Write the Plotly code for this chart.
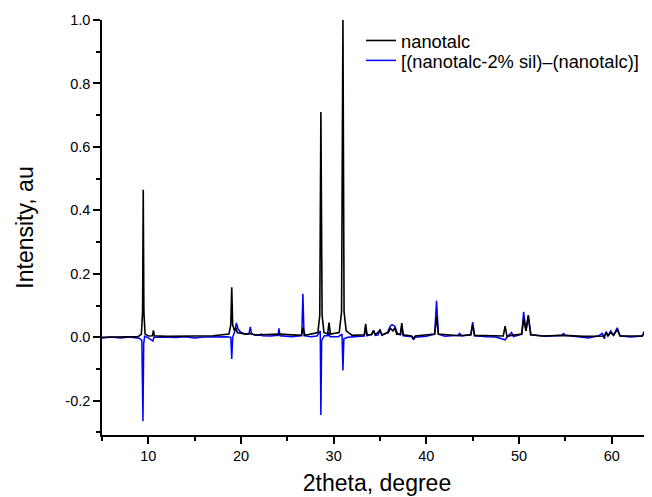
import plotly.graph_objects as go

# nanotalc pattern (2theta, intensity) vertices
nano_x = [5.0, 8.9, 9.25, 9.38, 9.45, 9.52, 9.65, 10.0, 10.45, 10.55, 10.65, 12.0, 15.0, 17.0,
          18.7, 18.9, 19.0, 19.1, 19.3, 19.45, 19.6, 20.5, 21.0, 21.5, 22.2, 24.1, 26.5, 26.7,
          26.9, 28.3, 28.5, 28.62, 28.75, 28.95, 29.35, 29.5, 29.65, 30.6, 30.85, 31.0, 31.12,
          31.35, 32.0, 33.3, 33.45, 33.6, 34.1, 34.3, 34.5, 35.0, 35.2, 35.9, 36.1, 36.4, 36.6,
          36.8, 37.2, 37.35, 37.5, 38.4, 38.6, 38.8, 40.9, 41.1, 41.3, 43.5, 44.8, 45.0, 45.2,
          48.3, 48.5, 48.7, 49.2, 50.3, 50.5, 50.75, 51.0, 51.25, 52.5, 54.8, 57.0, 59.2, 59.4,
          59.6, 59.9, 60.2, 60.6, 60.9, 63.3, 63.5, 63.7, 64.4]
nano_y = [0.0, 0.002, 0.01, 0.08, 0.465, 0.08, 0.01, 0.004, 0.005, 0.022, 0.005, 0.003, 0.004, 0.005,
          0.01, 0.04, 0.158, 0.04, 0.02, 0.03, 0.015, 0.01, 0.012, 0.008, 0.008, 0.01, 0.006, 0.03,
          0.006, 0.015, 0.07, 0.71, 0.07, 0.015, 0.01, 0.046, 0.01, 0.015, 0.08, 1.0, 0.08,
          0.02, 0.006, 0.008, 0.042, 0.008, 0.008, 0.02, 0.008, 0.022, 0.008, 0.015, 0.028, 0.02, 0.03,
          0.01, 0.01, 0.045, 0.008, 0.004, -0.005, 0.004, 0.01, 0.065, 0.01, 0.005, 0.008, 0.04, 0.006,
          0.004, 0.035, 0.003, 0.006, 0.01, 0.06, 0.02, 0.07, 0.008, 0.004, 0.006, 0.003, 0.004, 0.015,
          0.004, 0.015, 0.006, 0.025, 0.004, 0.004, 0.012, 0.003, 0.003]

# difference pattern [(nanotalc-2% sil)-(nanotalc)]
diff_x = [5.0, 6.0, 7.0, 8.0, 9.0, 9.3, 9.42, 9.5, 9.6, 10.0, 10.5, 10.6, 11.5, 13.0, 14.0, 15.0,
          16.0, 17.0, 18.5, 18.9, 19.0, 19.1, 19.35, 19.5, 19.7, 20.0, 20.5, 20.85, 21.0, 21.15,
          21.6, 22.1, 22.2, 22.3, 23.2, 24.0, 24.1, 24.2, 25.5, 26.55, 26.68, 26.8, 27.5, 28.2,
          28.55, 28.62, 28.7, 29.0, 29.4, 29.5, 29.6, 30.5, 30.9, 31.0, 31.1, 31.5, 32.5, 33.3,
          33.45, 33.6, 34.1, 34.3, 34.5, 34.8, 35.0, 35.2, 35.8, 36.1, 36.3, 36.6, 36.9, 37.2,
          37.35, 37.5, 38.5, 38.6, 38.8, 40.0, 40.9, 41.1, 41.3, 42.0, 43.4, 43.6, 43.8, 44.8,
          45.0, 45.2, 46.5, 47.5, 48.5, 48.7, 49.2, 49.4, 50.3, 50.5, 50.75, 51.0, 51.3, 53.0,
          54.6, 54.8, 55.0, 56.0, 57.5, 58.6, 59.0, 59.2, 59.4, 59.6, 59.9, 60.2, 60.6, 60.9,
          62.0, 63.3, 63.5, 63.7, 64.4]
diff_y = [-0.002, 0.001, -0.002, 0.001, -0.003, -0.01, -0.265, -0.02, 0.003, -0.002, -0.012, 0.0,
          0.001, -0.001, 0.002, -0.002, 0.001, 0.002, 0.002, 0.0, -0.068, 0.0, 0.02, 0.045, 0.025,
          0.015, 0.01, 0.01, 0.033, 0.01, 0.006, 0.006, 0.012, 0.005, 0.004, 0.006, 0.028, 0.005,
          0.002, 0.005, 0.137, 0.005, 0.002, 0.004, 0.02, -0.245, -0.01, 0.005, 0.005, 0.015,
          0.002, 0.002, 0.01, -0.105, -0.005, 0.0, 0.002, 0.004, 0.03, 0.005, 0.01, 0.022, 0.006,
          0.008, 0.025, 0.006, 0.015, 0.035, 0.04, 0.035, 0.01, 0.008, 0.035, 0.005, 0.002, -0.008,
          0.0, 0.003, 0.01, 0.115, 0.01, 0.003, 0.006, 0.012, 0.004, 0.008, 0.048, 0.005, 0.002,
          0.001, -0.008, 0.0, 0.015, 0.002, 0.01, 0.08, 0.02, 0.065, 0.008, 0.003, 0.006, 0.012,
          0.006, 0.002, -0.002, 0.005, 0.012, -0.005, 0.018, 0.005, 0.02, 0.006, 0.03, 0.005,
          0.001, 0.004, 0.018, 0.003, 0.0]

y_ticks = [-0.2, 0.0, 0.2, 0.4, 0.6, 0.8, 1.0]
y_tick_labels = ["-0.2", "0.0", "0.2", "0.4", "0.6", "0.8", "1.0"]
x_ticks = [10, 20, 30, 40, 50, 60]
x_tick_labels = ["10", "20", "30", "40", "50", "60"]

fig = go.Figure()
fig.add_trace(go.Scatter(x=diff_x, y=diff_y, mode="lines", name="[(nanotalc-2% sil)–(nanotalc)]",
                         line=dict(color="#0000ff", width=1.5), legend="legend2"))
fig.add_trace(go.Scatter(x=nano_x, y=nano_y, mode="lines", name="nanotalc",
                         line=dict(color="#000000", width=1.6), legend="legend"))

leg_common = dict(xanchor="left", yanchor="top", bgcolor="rgba(0,0,0,0)",
                  font=dict(size=18.3), tracegroupgap=0, itemwidth=30)

# page body has an 8px margin, so the figure is sized to fit the 652x497 window
fig.update_layout(
    width=644, height=489,
    margin=dict(l=94, r=0, t=12, b=62, autoexpand=False),
    paper_bgcolor="white", plot_bgcolor="white",
    font=dict(family="Liberation Sans, Arial, sans-serif", color="black", size=14.5),
    showlegend=True,
    legend=dict(x=0.471, y=0.995, **leg_common),
    legend2=dict(x=0.471, y=0.947, **leg_common),
    xaxis=dict(range=[5, 64.35], showgrid=False, zeroline=False, showline=True, automargin=False,
               linecolor="black", linewidth=1.5, ticks="outside", ticklen=7, tickwidth=1.5,
               tickcolor="black", tickvals=x_ticks, ticktext=x_tick_labels,
               tickfont=dict(size=14.5),
               minor=dict(dtick=5, tick0=5, ticks="outside", ticklen=4, tickwidth=1.5, tickcolor="black"),
               title=dict(text="2theta, degree", font=dict(size=23), standoff=12)),
    yaxis=dict(range=[-0.308, 1.0], showgrid=False, zeroline=False, showline=True, automargin=False,
               linecolor="black", linewidth=1.5, ticks="outside", ticklen=7, tickwidth=1.5,
               tickcolor="black", tickvals=y_ticks, ticktext=y_tick_labels,
               tickfont=dict(size=14.5),
               minor=dict(dtick=0.1, tick0=0, ticks="outside", ticklen=4, tickwidth=1.5, tickcolor="black"),
               title=dict(text="Intensity, au", font=dict(size=23), standoff=25)),
)

fig.write_html("out.html")
